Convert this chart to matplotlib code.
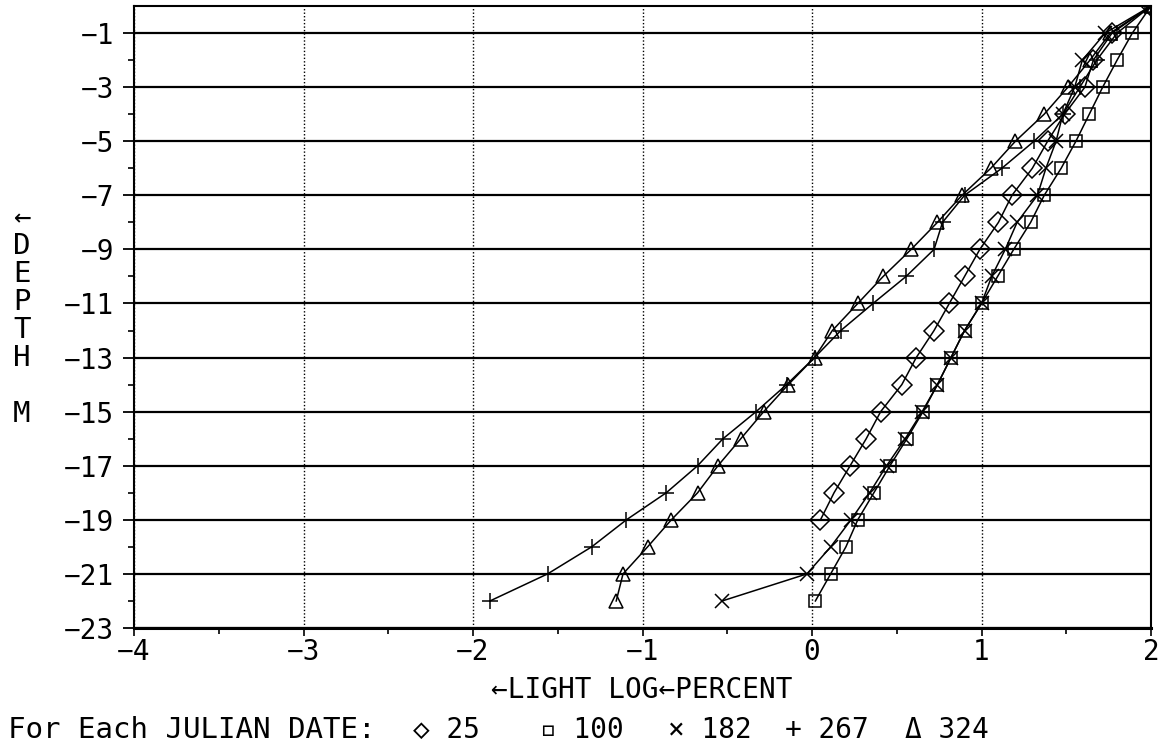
import matplotlib
matplotlib.use("Agg")
import matplotlib.pyplot as plt
import numpy as np

# -----------------------------------------------
# values
# -----------------------------------------------
depth_25 = [0, -1, -2, -3, -4, -5, -6, -7, -8, -9, -10, -11, -12, -13, -14, -15, -16, -17, -18, -19]
light_25 = [2.0, 1.77, 1.66, 1.61, 1.49, 1.39, 1.30, 1.18, 1.10, 0.99, 0.90, 0.81, 0.72, 0.615,
            0.53, 0.405, 0.32, 0.225, 0.13, 0.05]

depth_all = [0, -1, -2, -3, -4, -5, -6, -7, -8, -9, -10, -11, -12, -13, -14, -15, -16, -17, -18,
             -19, -20, -21, -22]
light_100 = [2.0, 1.89, 1.80, 1.715, 1.636, 1.557, 1.47, 1.37, 1.29, 1.19, 1.095, 1.0, 0.90, 0.82,
             0.74, 0.655, 0.56, 0.46, 0.365, 0.27, 0.20, 0.11, 0.02]
light_182 = [2.0, 1.73, 1.595, 1.55, 1.48, 1.44, 1.38, 1.33, 1.21, 1.14, 1.06, 1.0, 0.90, 0.82,
             0.74, 0.65, 0.55, 0.44, 0.34, 0.23, 0.11, -0.03, -0.53]
light_267 = [2.0, 1.80, 1.68, 1.58, 1.48, 1.31, 1.12, 0.90, 0.77, 0.72, 0.555, 0.36, 0.17, 0.015,
             -0.15, -0.33, -0.525, -0.675, -0.86, -1.095, -1.30, -1.56, -1.90]
light_324 = [2.0, 1.76, 1.64, 1.51, 1.37, 1.20, 1.055, 0.885, 0.74, 0.585, 0.42, 0.27, 0.12, 0.015,
             -0.14, -0.285, -0.42, -0.555, -0.675, -0.83, -0.97, -1.115, -1.155]

y_ticks = list(range(-23, 0, 2))
x_ticks = [-4, -3, -2, -1, 0, 1, 2]
legend_items = [("\u25c7", "25"), ("\u25ab", "100"), ("\u00d7", "182"), ("+", "267"), ("\u0394", "324")]

# -----------------------------------------------
# figure
# -----------------------------------------------
W, H = 1161, 749
fig = plt.figure(figsize=(W / 100, H / 100), dpi=100)
fam = ['DejaVu Sans Mono', 'DejaVu Sans']

ax = fig.add_axes([134 / W, 1 - 628 / H, (1151 - 134) / W, (628 - 6) / H])

line_kw = dict(color='black', lw=1.1, mfc='none', mec='black', mew=1.1)
ax.plot(light_25, depth_25, marker='D', ms=10, **line_kw)
ax.plot(light_100, depth_all, marker='s', ms=9, **line_kw)
ax.plot(light_182, depth_all, marker='x', ms=10, **line_kw)
ax.plot(light_267, depth_all, marker='+', ms=12, **line_kw)
ax.plot(light_324, depth_all, marker='^', ms=10, **line_kw)

ax.set_xlim(-4, 2)
ax.set_ylim(-23, 0)
ax.set_xticks(x_ticks)
ax.set_xticks(np.arange(-3.5, 2, 1.0), minor=True)
ax.set_yticks(y_ticks)
ax.set_yticks(list(range(-22, 0, 2)), minor=True)

# grid: solid horizontals at odd depths, dotted verticals at whole numbers
ax.grid(axis='y', which='major', color='black', lw=1.6, ls='-')
ax.grid(axis='x', which='major', color='black', lw=1.0, ls=(0, (1, 1.5)))

for s in ax.spines.values():
    s.set_linewidth(1.5)
ax.spines['bottom'].set_linewidth(2.2)

ax.tick_params(axis='y', which='major', direction='out', length=8, width=1.3, pad=6)
ax.tick_params(axis='y', which='minor', direction='out', length=4, width=1.2)
ax.tick_params(axis='x', which='major', direction='out', length=6, width=1.2, pad=1)
ax.tick_params(axis='x', which='minor', direction='out', length=4, width=1.2)
for lab in ax.get_xticklabels() + ax.get_yticklabels():
    lab.set_family(fam)
    lab.set_fontsize(20)

# x label
fig.text(642 / W, 1 - 690 / H, "\u2190LIGHT LOG\u2190PERCENT", family=fam, fontsize=20,
         ha='center', va='center')

# stacked y label
ylab = ["\u2190", "D", "E", "P", "T", "H", "", "M"]
for i, ch in enumerate(ylab):
    fig.text(22 / W, 1 - (218 + i * 28) / H, ch, family=fam, fontsize=21,
             ha='center', va='center')

# legend line under the plot
fig.text(8 / W, 1 - 730 / H, "For Each JULIAN DATE:", family=fam, fontsize=21,
         ha='left', va='center')
leg_x = [413, 540, 668, 785, 905]
for (sym, lab), px in zip(legend_items, leg_x):
    fig.text(px / W, 1 - 730 / H, sym + " " + lab, family=fam, fontsize=20,
             ha='left', va='center')

plt.savefig("out.png", dpi=100)
